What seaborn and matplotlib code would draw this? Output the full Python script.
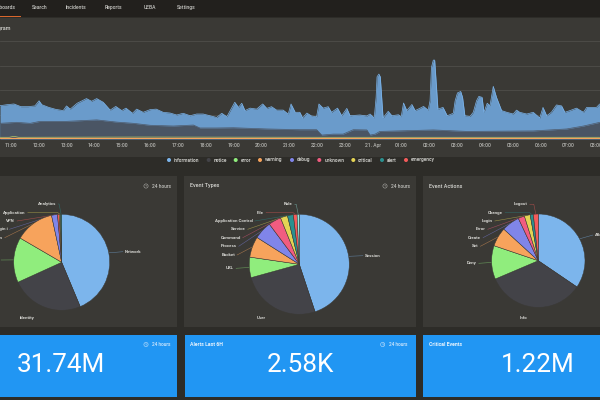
#!/usr/bin/env python3
import numpy as np
import matplotlib
matplotlib.use("Agg")
import matplotlib.pyplot as plt
from matplotlib.patches import Rectangle, Circle
import seaborn as sns

sns.set_style("dark")
plt.rcParams['font.family'] = ['Roboto', 'DejaVu Sans']

# histogram data, x = minutes since 10:37
info_min = [0, 15, 30, 45, 60, 75, 84, 90, 105, 120, 136, 143, 151, 166, 186, 197, 208, 222, 237, 249, 262, 271, 285, 294,
            308, 323, 336, 351, 366, 380, 394, 409, 423, 437, 452, 466, 477, 488, 505, 513, 520, 527, 538, 552, 565, 574,
            584, 595, 609, 620, 626, 635, 645, 651, 660, 670, 681, 686, 695, 706, 713, 726, 735, 746, 753, 774, 789, 796,
            805, 809, 811, 815, 818, 821, 824, 835, 843, 857, 863, 868, 875, 886, 893, 903, 911, 921, 925, 928, 932, 935,
            939, 942, 953, 962, 975, 979, 984, 991, 995, 1000, 1011, 1018, 1025, 1030, 1037, 1041, 1048, 1054, 1061, 1068,
            1079, 1090, 1104, 1111, 1118, 1133, 1147, 1161, 1168, 1176, 1186, 1197, 1208, 1215, 1226, 1240, 1255, 1262,
            1283, 1290]
info_top = [136, 140, 143, 132, 132, 135, 156, 140, 129, 121, 116, 135, 122, 146, 165, 154, 165, 150, 118, 133, 116, 126, 105, 122,
            109, 120, 122, 109, 106, 98, 105, 95, 102, 102, 95, 88, 105, 91, 150, 129, 146, 116, 126, 122, 143, 125,
            132, 118, 118, 102, 143, 109, 109, 86, 106, 94, 91, 143, 126, 132, 109, 126, 95, 125, 95, 98, 94, 102,
            86, 170, 254, 265, 254, 170, 86, 113, 95, 99, 91, 147, 116, 141, 116, 125, 133, 118, 156, 292, 322, 322,
            211, 122, 129, 95, 105, 156, 188, 194, 170, 95, 92, 109, 156, 174, 170, 109, 146, 136, 215, 170,
            116, 109, 102, 118, 109, 102, 109, 86, 129, 95, 109, 139, 135, 109, 116, 126, 109, 129,
            129, 143]
notice_min = [0, 36, 65, 86, 143, 208, 251, 287, 323, 373, 416, 430, 466, 502, 574, 645, 681, 692, 717, 738, 760, 789, 796, 807,
              817, 932, 1004, 1147, 1219, 1255, 1290]
notice_top = [64, 68, 64, 72, 72, 78, 69, 64, 56, 53, 57, 45, 45, 46, 41, 38, 38, 16, 20, 20, 38, 37, 16, 20,
              31, 37, 31, 33, 41, 53, 68]
low_min = [0, 20, 30, 40, 300, 700, 1290]
error_top = [7, 7, 11, 7, 8, 7, 7]
warning_top = [5, 5, 5, 5, 5, 5, 5]

tick_min = [23 + 60 * i for i in range(22)]
tick_labels = ["11:00", "12:00", "13:00", "14:00", "15:00", "16:00", "17:00", "18:00", "19:00", "20:00", "21:00",
               "22:00", "23:00", "21. Apr", "01:00", "02:00", "03:00", "04:00", "05:00", "06:00", "07:00", "08:00"]

legend_names = ["information", "notice", "error", "warning", "debug", "unknown", "critical", "alert", "emergency"]
palette = ["#7cb5ec", "#434348", "#90ed7d", "#f7a35c", "#8085e9", "#f15c80", "#e4d354", "#2b908f", "#f45b5b", "#91e8e1"]

# pies
source_names = ["Network", "Identity", "Endpoint", "System", "Plugin i", "VPN", "Application", "Analytics"]
source_vals = [43.7, 24.5, 15.2, 13.2, 2.0, 0.6, 0.4, 0.4]
type_names = ["Session", "User", "URL", "Bucket", "Process", "Command", "Service", "Application Control", "File", "Rule"]
type_vals = [44.9, 25.8, 6.6, 6.7, 5.8, 4.1, 2.3, 1.9, 1.2, 0.7]
action_names = ["Allow", "Info", "Deny", "Set", "Create", "Error", "Login", "Change", "Logout"]
action_vals = [34.5, 34.1, 11.6, 6.6, 6.2, 2.2, 2.0, 1.1, 1.7]

BG = "#2d2c28"
NAV = "#22201d"
PANEL = "#3a3935"
TXT = "#d8d8d4"
CARD = "#2196f3"

W, H = 600, 400
fig = plt.figure(figsize=(6, 4), dpi=100, facecolor=BG)
bg = fig.add_axes([0, 0, 1, 1])
bg.set_axis_off()


def flip(y):
    return H - y


def reset_view():
    bg.set_xlim(0, W)
    bg.set_ylim(0, H)
    bg.set_aspect("auto")


def box(x0, y0, x1, y1, color, z=1):
    bg.add_patch(Rectangle((x0, flip(y1)), x1 - x0, y1 - y0, fc=color, ec="none", zorder=z))


def label(x, y, s, size=3.2, ha="left", color=TXT, weight="bold", z=6):
    bg.text(x, flip(y), s, fontsize=size, ha=ha, va="center", color=color, fontweight=weight, zorder=z)


def clock(x, y, color="#b8b8b4"):
    bg.add_patch(Circle((x, flip(y)), 2.1, fc="none", ec=color, lw=0.35, zorder=6))
    bg.plot([x, x, x + 1], [flip(y - 1.2), flip(y), flip(y)], color=color, lw=0.3, zorder=6)


reset_view()

# nav bar
box(0, 0, W, 17, NAV)
box(0, 16, 21, 17, "#d9662c", 2)
for x, name in zip([16, 47, 86, 122, 156, 196], ["Dashboards", "Search", "Incidents", "Reports", "UEBA", "Settings"]):
    label(x, 7.5, name, size=3.6, ha="right", color="#c8c8c4", weight="medium")

# panels
box(0, 18, W, 157, PANEL)
box(0, 176, 176.5, 327, PANEL)
box(184, 176, 415.5, 327, PANEL)
box(423, 176, W, 327, PANEL)
label(11, 28.5, "Histogram", size=3.9, ha="right", weight="medium")

# histogram
ax = fig.add_axes([0, flip(139) / H, 1, 98 / H], facecolor="none")
ax.fill_between(info_min, info_top, color="#6a9bcb", lw=0)
ax.fill_between(notice_min, notice_top, color="#4a5564", lw=0)
sns.lineplot(x=info_min, y=info_top, color="#7cb5ec", lw=0.5, estimator=None, ax=ax)
sns.lineplot(x=notice_min, y=notice_top, color="#4d5868", lw=0.5, estimator=None, ax=ax)
sns.lineplot(x=low_min, y=error_top, color="#b5c96a", lw=0.5, estimator=None, ax=ax)
sns.lineplot(x=low_min, y=warning_top, color=palette[3], lw=0.9, estimator=None, ax=ax)
ax.set_xlim(0, 1290.6)
ax.set_ylim(0, 400)
ax.set_yticks([100, 200, 300, 400])
ax.set_yticklabels([])
ax.set_xticks(tick_min)
ax.set_xticklabels(tick_labels, fontsize=3.6, color="#b8b8b4", fontweight="medium")
ax.tick_params(axis="x", length=0, pad=3)
ax.tick_params(axis="y", length=0)
ax.grid(axis="y", color="#4b4a46", lw=0.8)
ax.grid(axis="x", visible=False)
ax.set_axisbelow(True)
ax.set_xlabel("")
ax.set_ylabel("")
for s in ax.spines.values():
    s.set_visible(False)

# histogram legend
leg_x = [169, 208.7, 235.7, 260, 292, 319.3, 353.3, 382, 406]
for x, name, col in zip(leg_x, legend_names, palette):
    bg.add_patch(Circle((x, flip(160)), 2, fc=col, ec="none", zorder=6))
    label(x + 5, 160, name, size=3.5, color="#c0c0bc")


def pie(cx, cy, r, vals, cols, names, places, elbows=()):
    wedges, _ = bg.pie(vals, colors=cols, startangle=90, counterclock=False, center=(cx, flip(cy)), radius=r,
                       wedgeprops=dict(lw=0.35, ec=PANEL), normalize=True)
    for w in wedges:
        w.set_zorder(4)
    for i, (w, name, (tx, ty, ha)) in enumerate(zip(wedges, names, places)):
        a = np.deg2rad((w.theta1 + w.theta2) / 2)
        ex, ey = cx + r * np.cos(a), flip(cy) + r * np.sin(a)
        label(tx, ty, name, ha=ha)
        if ha == "center":
            continue
        side = tx - 2 if ha == "left" else tx + 2
        if i in elbows:
            xs, ys = [side, ex - 2, ex], [flip(ty), flip(ty), ey]
        else:
            xs, ys = [side, ex], [flip(ty), ey]
        bg.plot(xs, ys, color=w.get_facecolor(), lw=0.4, alpha=0.55, zorder=3)
    reset_view()


pie(61.7, 262.3, 48, source_vals, [palette[i] for i in (0, 1, 2, 3, 4, 8, 6, 7)], source_names,
    [(125, 251.7, "left"), (27, 318, "center"), (-1, 260, "right"), (2.7, 237.7, "right"), (7.3, 229.3, "right"),
     (15, 221, "right"), (25.7, 212.7, "right"), (56, 204, "right")], elbows=(6, 7))
pie(299.3, 264.3, 50, type_vals, palette, type_names,
    [(365, 255.7, "left"), (261, 318.3, "center"), (234, 268.3, "right"), (235, 255, "right"), (236.7, 246.3, "right"),
     (240.7, 237.7, "right"), (245.7, 229.3, "right"), (252.7, 221, "right"), (264, 212.7, "right"),
     (292.7, 204.3, "right")], elbows=(8, 9))
pie(538.3, 260.7, 46.7, action_vals, palette[:9], action_names,
    [(595, 235, "left"), (524, 318, "center"), (476.7, 263.3, "right"), (478.3, 246.3, "right"), (481, 237.7, "right"),
     (485.7, 229.3, "right"), (492.7, 221, "right"), (503, 212.7, "right"), (527.7, 204.3, "right")], elbows=(7, 8))

label(190, 186, "Event Types", size=3.9, weight="medium")
label(429, 186, "Event Actions", size=3.9, weight="medium")
for x in [146, 385]:
    clock(x, 186)
    label(x + 6, 186, "24 hours", size=3.5, color="#c0c0bc", weight="medium")

# stat cards
box(0, 334.5, 176.5, 397, CARD)
box(185, 334.5, 415.5, 397, CARD)
box(423, 334.5, W, 397, CARD)
label(190.5, 344.5, "Alerts Last 6H", size=3.7, color="#e6f2fd")
label(428.6, 344.5, "Critical Events", size=3.7, color="#e6f2fd")
for x in [146, 382.7]:
    clock(x, 344.5, "#d6eafc")
    label(x + 6, 344.5, "24 hours", size=3.4, color="#d6eafc", weight="medium")
for x, s in zip([61.3, 300.5, 538], ["31.74M", "2.58K", "1.22M"]):
    bg.text(x, flip(365.5), s, fontsize=18.8, ha="center", va="center", color="white", zorder=6)

reset_view()
fig.savefig("out.png", dpi=100, facecolor=BG)
